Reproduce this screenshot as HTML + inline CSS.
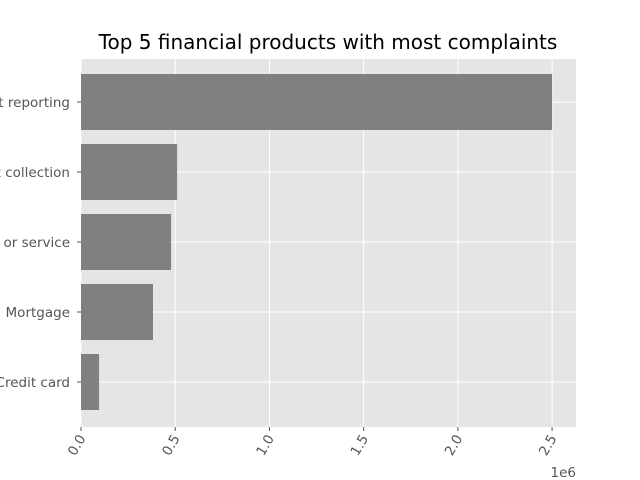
<!DOCTYPE html>
<html><head><meta charset="utf-8"><style>
body{margin:0;background:#fff;}
svg{display:block;font-family:"DejaVu Sans","Liberation Sans",sans-serif;}
</style></head><body>
<svg id="chart" width="640" height="480">
<text x="328" y="49" text-anchor="middle" font-size="20" fill="#000">Top 5 financial products with most complaints</text>
<rect x="81" y="59" width="495" height="368" fill="#e5e5e5"/>
<g id="grid"></g><g id="bars"></g><g id="yticks"></g><g id="xticks"></g>
<text x="576" y="477" text-anchor="end" font-size="13.5" fill="#555">1e6</text>
</svg>
<script>
const categories = ["Credit reporting, credit repair services, or other personal consumer credit reporting","Debt collection","Bank account or service","Mortgage","Credit card"];
const values = [2500000, 510000, 478000, 382000, 96000];
const xTicks = [0, 500000, 1000000, 1500000, 2000000, 2500000];
const xTickLabels = ["0.0","0.5","1.0","1.5","2.0","2.5"];
const NS="http://www.w3.org/2000/svg";
const x0=81,x1=576,xMax=2627000,step=70;
const xs=v=>x0+v/xMax*(x1-x0);
const yc=i=>102+i*step;
function mk(t,a,p){const e=document.createElementNS(NS,t);for(const k in a)e.setAttribute(k,a[k]);p.appendChild(e);return e;}
const grid=document.getElementById('grid'),bars=document.getElementById('bars'),yt=document.getElementById('yticks'),xt=document.getElementById('xticks');
xTicks.forEach((v,i)=>{
  const l=mk('line',{x1:xs(v),x2:xs(v),y1:59,y2:427,stroke:'#fff','stroke-width':1},grid);
  
  
  const t=mk('line',{x1:xs(v),x2:xs(v),y1:427,y2:431,stroke:'#555'},xt);
  
  
  const tx=mk('text',{x:0,y:0,'font-size':13.5,fill:'#555','text-anchor':'end',transform:`translate(${xs(v)+5},${438}) rotate(-60)`},xt);
  tx.textContent=xTickLabels[i];
  
  
});
categories.forEach((c,i)=>{
  const g=mk('line',{x1:81,x2:576,y1:yc(i),y2:yc(i),stroke:'#fff'},grid);
  
  
  const r=mk('rect',{x:x0,y:yc(i)-28,width:xs(values[i])-x0,height:56,fill:'#808080'},bars);
  
  
  const t=mk('line',{x1:77,x2:81,y1:yc(i),y2:yc(i),stroke:'#555'},yt);
  
  
  const tx=mk('text',{x:70,y:yc(i)+5,'font-size':13.5,fill:'#555','text-anchor':'end'},yt);
  tx.textContent=c;
  
  
});
</script>
</body></html>
